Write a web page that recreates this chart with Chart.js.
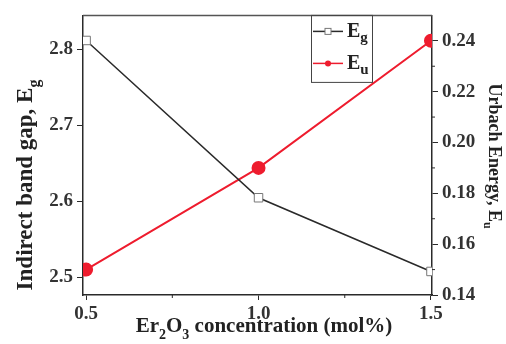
<!DOCTYPE html>
<html>
<head>
<meta charset="utf-8">
<script src="https://cdn.jsdelivr.net/npm/chart.js@4/dist/chart.umd.min.js"></script>
<style>
  html, body { margin: 0; padding: 0; background: #fff; }
  #wrap { width: 506px; height: 344px; }
</style>
</head>
<body>
<div id="wrap"><canvas id="myChart" width="506" height="344"></canvas></div>
<script>
// данные с картинки
const concentration = [0.5, 1.0, 1.5];
const bandGap = [2.812, 2.605, 2.508];
const urbach = [0.150, 0.190, 0.240];
const xTicks = [0.5, 1.0, 1.5];
const xMinor = [0.75, 1.25];
const leftTicks = [2.5, 2.6, 2.7, 2.8];
const rightTicks = [0.14, 0.16, 0.18, 0.20, 0.22, 0.24];
const rightMinor = [0.15, 0.17, 0.19, 0.21, 0.23];

const FONT = '"Liberation Serif", "DejaVu Serif", serif';
const RED = '#ee1c2e';
const DARK = '#2a2a2a';

const decorPlugin = {
    id: 'decor',
    afterDraw(chart) {
        const ctx = chart.ctx;
        const a = chart.chartArea;
        const sx = chart.scales.x, sr = chart.scales.y1;
        ctx.save();
        // верхняя рамка
        ctx.strokeStyle = '#555';
        ctx.lineWidth = 1.5;
        ctx.beginPath();
        ctx.moveTo(a.left, a.top);
        ctx.lineTo(a.right, a.top);
        ctx.stroke();

        // мелкие засечки
        ctx.strokeStyle = DARK;
        ctx.lineWidth = 1;
        xMinor.forEach(v => {
            const px = sx.getPixelForValue(v);
            ctx.beginPath();
            ctx.moveTo(px, a.bottom);
            ctx.lineTo(px, a.bottom + 3);
            ctx.stroke();
        });
        rightMinor.forEach(v => {
            const py = sr.getPixelForValue(v);
            ctx.beginPath();
            ctx.moveTo(a.right, py);
            ctx.lineTo(a.right + 3, py);
            ctx.stroke();
        });

        // легенда
        const lx = 311, ly = a.top, lw = 61, lh = 67;
        ctx.strokeStyle = '#444';
        ctx.lineWidth = 1;
        ctx.strokeRect(lx + 0.5, ly, lw, lh);
        const rows = [
            { y: ly + 16, color: DARK, sub: 'g', square: true },
            { y: ly + 48, color: RED, sub: 'u', square: false }
        ];
        rows.forEach(r => {
            ctx.strokeStyle = r.color;
            ctx.lineWidth = 1.5;
            ctx.beginPath();
            ctx.moveTo(lx + 2, r.y);
            ctx.lineTo(lx + 32, r.y);
            ctx.stroke();
            if (r.square) {
                ctx.fillStyle = '#fff';
                ctx.fillRect(lx + 14, r.y - 3, 6, 6);
                ctx.strokeStyle = '#777';
                ctx.lineWidth = 1;
                ctx.strokeRect(lx + 14, r.y - 3, 6, 6);
            } else {
                ctx.fillStyle = r.color;
                ctx.beginPath();
                ctx.arc(lx + 17, r.y, 3, 0, Math.PI * 2);
                ctx.fill();
            }
            ctx.fillStyle = '#222';
            ctx.textBaseline = 'middle';
            ctx.textAlign = 'left';
            ctx.font = 'bold 20px ' + FONT;
            ctx.fillText('E', lx + 36, r.y);
            const w = ctx.measureText('E').width;
            ctx.font = 'bold 15px ' + FONT;
            ctx.fillText(r.sub, lx + 36 + w, r.y + 7);
        });

        // подписи осей
        ctx.fillStyle = '#222';
        ctx.textBaseline = 'middle';
        ctx.textAlign = 'left';
        const titleY = (text, sub, cx, cy, rot, weight, size) => {
            const big = weight + ' ' + size + 'px ' + FONT;
            const small = weight + ' ' + Math.round(size * 0.68) + 'px ' + FONT;
            ctx.font = big;
            const w1 = ctx.measureText(text).width;
            ctx.font = small;
            const w2 = ctx.measureText(sub).width;
            ctx.save();
            ctx.translate(cx, cy);
            ctx.rotate(rot);
            const start = -(w1 + w2) / 2;
            ctx.font = big;
            ctx.fillText(text, start, 0);
            ctx.font = small;
            ctx.fillText(sub, start + w1, size * 0.38);
            ctx.restore();
        };
        titleY('Indirect band gap, E', 'g', 26, 185, -Math.PI / 2, 'bold', 23);
        titleY('Urbach Energy, E', 'u', 494, 156, Math.PI / 2, 'bold', 18);

        // ось X
        const parts = [['Er', 0], ['2', 1], ['O', 0], ['3', 1], [' concentration (mol%)', 0]];
        const fx = p => (p[1] ? 'bold 14px ' : 'bold 21px ') + FONT;
        let total = 0;
        parts.forEach(p => {
            ctx.font = fx(p);
            total += ctx.measureText(p[0]).width;
        });
        let x = 264 - total / 2;
        const y = 327;
        parts.forEach(p => {
            ctx.font = fx(p);
            ctx.fillText(p[0], x, p[1] ? y + 8 : y);
            x += ctx.measureText(p[0]).width;
        });
        ctx.restore();
    }
};

const ctx = document.getElementById('myChart').getContext('2d');
const myChart = new Chart(ctx, {
    type: 'line',
    data: {
        datasets: [{
            label: 'Eg',
            data: concentration.map((c, i) => ({ x: c, y: bandGap[i] })),
            yAxisID: 'y',
            borderColor: DARK,
            borderWidth: 1.5,
            pointStyle: 'rect',
            pointRadius: 6,
            pointBackgroundColor: '#fff',
            pointBorderColor: '#777',
            pointBorderWidth: 1,
            tension: 0
        }, {
            label: 'Eu',
            data: concentration.map((c, i) => ({ x: c, y: urbach[i] })),
            yAxisID: 'y1',
            borderColor: RED,
            borderWidth: 2,
            pointStyle: 'circle',
            pointRadius: 6,
            pointBackgroundColor: RED,
            pointBorderColor: RED,
            tension: 0
        }]
    },
    options: {
        responsive: false,
        animation: false,
        layout: { padding: { top: 9, left: 0, right: 0, bottom: 0 } },
        plugins: {
            legend: false,
            tooltip: { enabled: false }
        },
        scales: {
            x: {
                type: 'linear',
                min: 0.491,
                max: 1.503,
                afterBuildTicks: s => { s.ticks = xTicks.map(v => ({ value: v })); },
                afterFit: s => { s.height = 49; },
                grid: { drawOnChartArea: false, tickLength: 5, tickColor: DARK },
                border: { color: DARK, width: 1.5 },
                ticks: {
                    padding: 3,
                    color: '#333',
                    font: { family: FONT, size: 19, weight: 'bold' },
                    callback: v => v.toFixed(1),
                    maxRotation: 0
                }
            },
            y: {
                position: 'left',
                min: 2.477,
                max: 2.845,
                afterBuildTicks: s => { s.ticks = leftTicks.map(v => ({ value: v })); },
                afterFit: s => { s.width = 83; },
                grid: { drawOnChartArea: false, tickLength: 6, tickColor: DARK },
                border: { color: DARK, width: 1.5 },
                ticks: {
                    padding: 4,
                    color: '#333',
                    font: { family: FONT, size: 19, weight: 'bold' },
                    callback: v => v.toFixed(1)
                }
            },
            y1: {
                position: 'right',
                min: 0.14,
                max: 0.25,
                afterBuildTicks: s => { s.ticks = rightTicks.map(v => ({ value: v })); },
                afterFit: s => { s.width = 74; },
                grid: { drawOnChartArea: false, tickLength: 6, tickColor: DARK },
                border: { color: DARK, width: 1.5 },
                ticks: {
                    padding: 4,
                    color: '#333',
                    font: { family: FONT, size: 19, weight: 'bold' },
                    callback: v => v.toFixed(2)
                }
            }
        }
    },
    plugins: [decorPlugin]
});
</script>
</body>
</html>
